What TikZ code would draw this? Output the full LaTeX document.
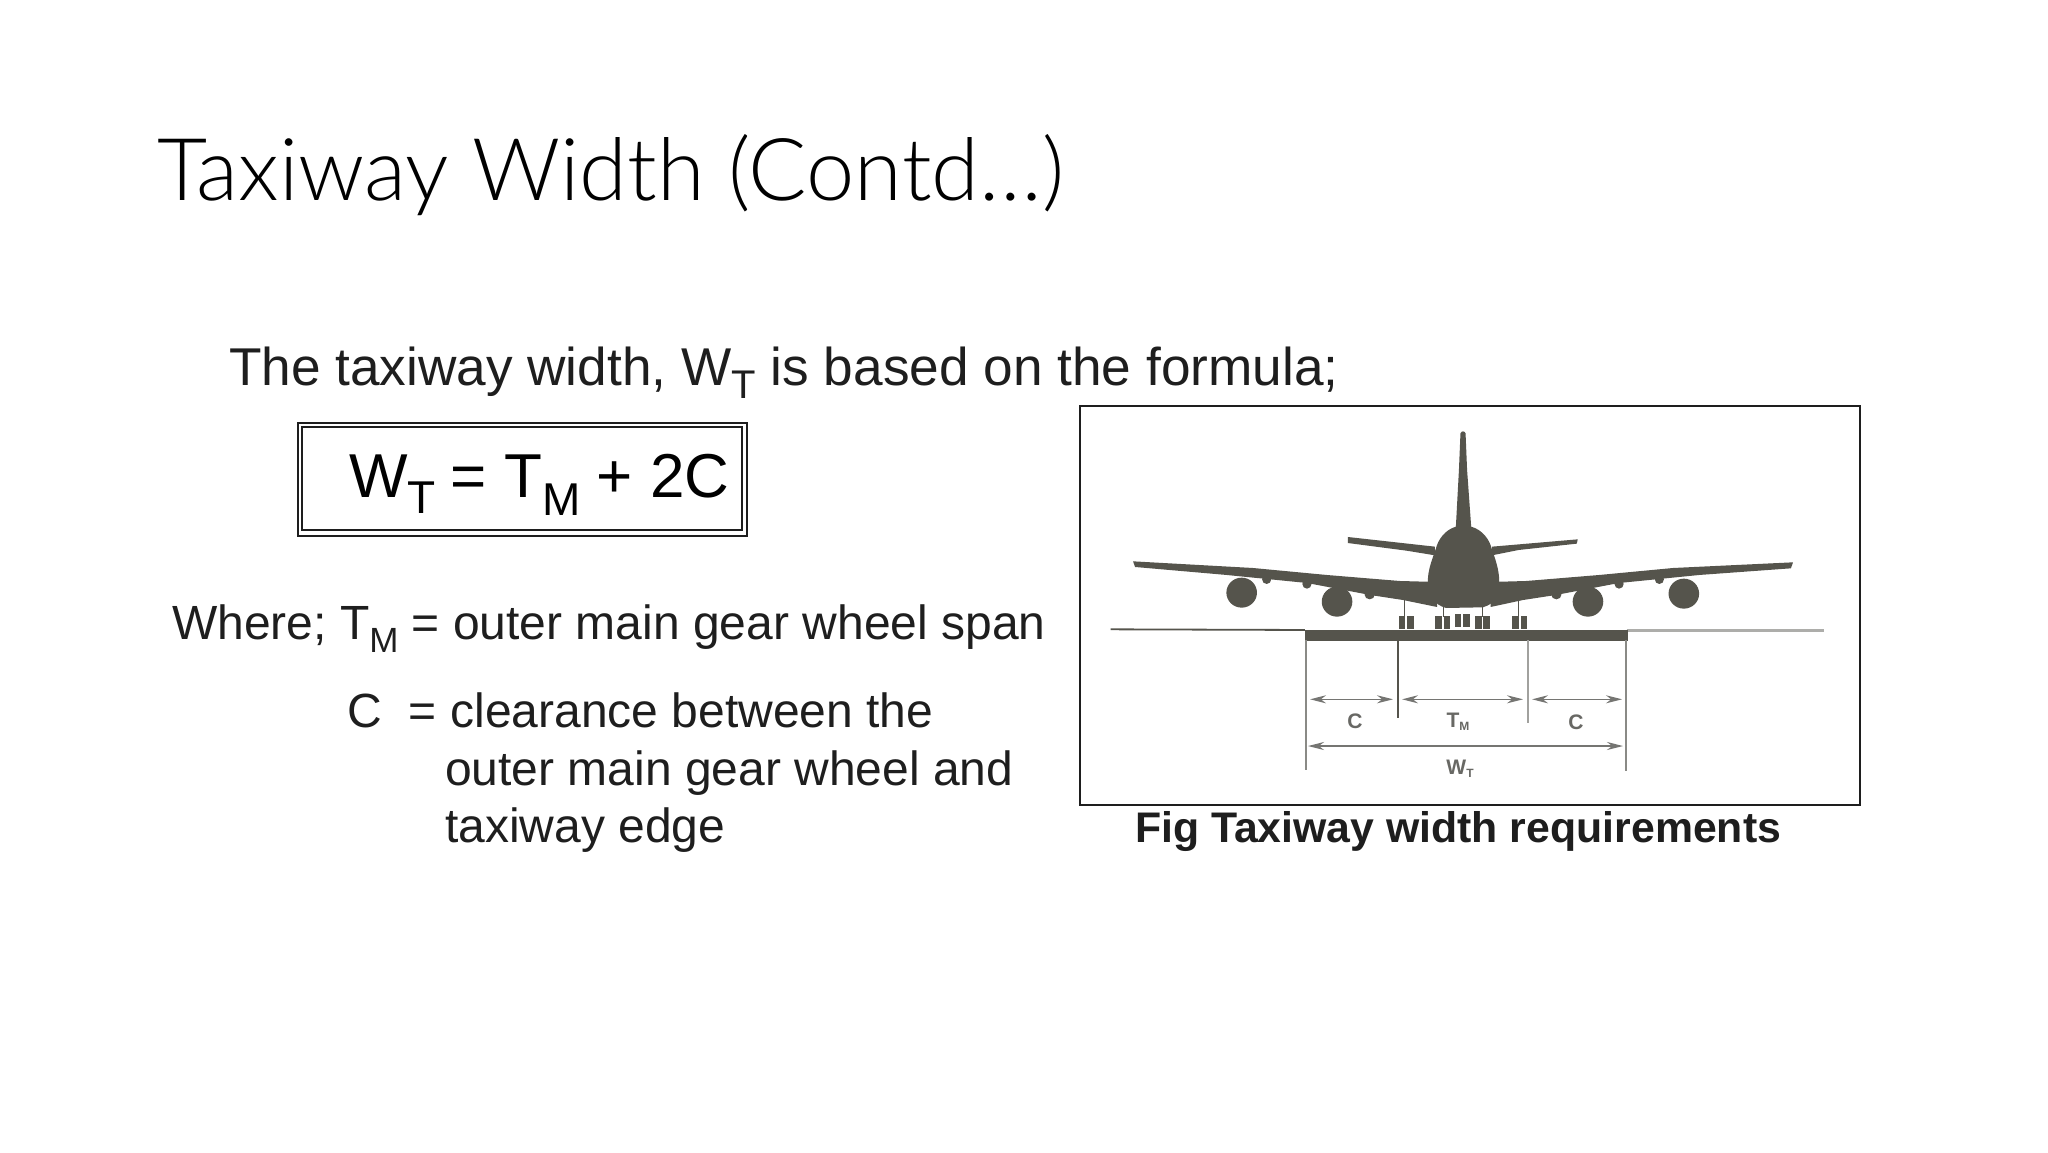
\documentclass[tikz,border=0pt]{standalone}
\usepackage{fontspec}
\setmainfont{Liberation Sans}
\newfontfamily\titlefont{Lato Light}
\usetikzlibrary{arrows.meta}
\newcommand{\lowsub}[3]{\raisebox{#1pt}{\fontsize{#2}{#2}\selectfont #3}}
\definecolor{ink}{HTML}{1E1E1E}
\definecolor{plane}{HTML}{55544C}
\definecolor{ground}{HTML}{8A8A86}
\tikzset{
  txt/.style={anchor=base west,inner sep=0pt,outer sep=0pt,text=ink},
  titletxt/.style={txt,text=black,font=\titlefont\fontsize{86.6}{100}\selectfont},
  headtxt/.style={txt,font=\fontsize{53.2}{60}\selectfont},
  bodytxt/.style={txt,font=\fontsize{48}{56}\selectfont},
  eqtxt/.style={txt,text=black,font=\fontsize{62}{70}\selectfont},
  captxt/.style={txt,font=\bfseries\fontsize{42.8}{50}\selectfont},
  dimtxt/.style={anchor=center,inner sep=0pt,text=ground!75!black,font=\bfseries\fontsize{21}{24}\selectfont},
  planefill/.style={fill=plane,draw=none},
  extline/.style={draw=ground,line width=1.8pt},
  dimline/.style={draw=ground!85!black,line width=1.6pt,{Stealth[length=16pt,width=8pt]}-{Stealth[length=16pt,width=8pt]}},
  figframe/.style={draw=ink,line width=2.4pt,fill=white,inner sep=0pt},
  eqframe/.style={draw=ink,line width=1.6pt,inner sep=0pt}
}
\begin{document}
\begin{tikzpicture}[x=1pt,y=-1pt]
\useasboundingbox[fill=white] (0,0) rectangle (2048,1152);
\node[titletxt] (title) at (157,200) {Taxiway Width (Contd…)};
\node[headtxt] (head) at (229,385.5) {The taxiway width, W\lowsub{-13}{40}{T} is based on the formula;};
\node[eqframe,minimum width=449pt,minimum height=113pt] (eqouter) at (522.5,479.5) {};
\node[eqframe,minimum width=440pt,minimum height=103pt] (eqinner) at (522,478.5) {};
\node[eqtxt] (eq) at (349,497) {W\lowsub{-16}{46}{T}\hspace{-2pt} = T\lowsub{-18}{46}{M}\hspace{-1pt} + 2C};
\node[bodytxt] (where) at (172,639) {Where; T\lowsub{-13}{35}{M} = outer main gear wheel span};
\node[bodytxt] (c1) at (347,727) {C\hspace{14pt} = clearance between the};
\node[bodytxt] (c2) at (445,785) {outer main gear wheel and};
\node[bodytxt] (c3) at (445,842) {taxiway edge};
\node[captxt] (cap) at (1135,842) {Fig Taxiway width requirements};
\node[figframe,minimum width=780pt,minimum height=399pt] (fig) at (1470,605.5) {};
% aircraft, in the coordinates of a crop at (1080,400)
\begin{scope}[shift={(1080pt,-400pt)},x=0.51pt,y=-0.3333pt]
  \coordinate (gl) at (60,688);
  \coordinate (gr) at (1458,692);
  \coordinate (pl) at (441,690);
  \coordinate (pr) at (1072,692);
  \draw[draw=plane,line width=1.8pt] (gl) -- (pl);
  \draw[draw=ground!70!white,line width=3pt] (pr) -- (gr);
  % fin and fuselage
  \fill[planefill] (746,100) .. controls (748,92) and (754,92) .. (756,100)
    -- (759,210) -- (767,380)
    .. controls (790,390) and (803,420) .. (807,445)
    .. controls (815,480) and (822,510) .. (822,545)
    .. controls (820,590) and (815,610) .. (790,622)
    -- (718,624) .. controls (695,615) and (685,590) .. (682,545)
    .. controls (682,510) and (690,480) .. (698,445)
    .. controls (702,420) and (715,390) .. (737,380)
    -- (743,210) -- cycle;
  % tailplanes
  \fill[planefill] (525,411) -- (696,440) -- (696,466) -- (640,452) -- (525,429) -- cycle;
  \fill[planefill] (976,418) -- (808,440) -- (808,466) -- (860,450) -- (974,431) -- cycle;
  % wings
  \fill[planefill] (104,484) -- (339,504) -- (484,525) -- (627,543) -- (700,546) -- (700,621)
    -- (633,600) -- (569,585) -- (445,549) -- (288,525) -- (108,501) -- cycle;
  \fill[planefill] (1398,487) -- (1163,504) -- (1018,525) -- (875,543) -- (805,546) -- (805,621)
    -- (869,600) -- (933,585) -- (1057,549) -- (1214,525) -- (1394,505) -- cycle;
  % flap fairings
  \fill[planefill] (366,538) ellipse [x radius=9,y radius=14];
  \fill[planefill] (445,552) ellipse [x radius=9,y radius=14];
  \fill[planefill] (568,584) ellipse [x radius=10,y radius=14];
  \fill[planefill] (934,584) ellipse [x radius=10,y radius=14];
  \fill[planefill] (1057,552) ellipse [x radius=9,y radius=14];
  \fill[planefill] (1136,538) ellipse [x radius=9,y radius=14];
  % engines
  \fill[planefill] (317,578) ellipse [x radius=30,y radius=45];
  \fill[planefill] (504,605) ellipse [x radius=30,y radius=45];
  \fill[planefill] (996,605) ellipse [x radius=30,y radius=45];
  \fill[planefill] (1184,581) ellipse [x radius=30,y radius=45];
  % landing gear
  \draw[draw=plane,line width=0.9pt] (637,600) -- (637,650);
  \draw[draw=plane,line width=0.9pt] (860,600) -- (860,650);
  \draw[draw=plane,line width=0.9pt] (712,620) -- (712,650);
  \draw[draw=plane,line width=0.9pt] (790,620) -- (790,650);
  \foreach \gx/\gt in {625/648,697/648,735/642,775/648,848/648}{
    \fill[planefill] (\gx,\gt) rectangle ++(13,39);
    \fill[planefill] (\gx+16,\gt) rectangle ++(13,39);
  }
\end{scope}
% pavement and dimensions
\fill[planefill] (1305,630) rectangle (1627.5,640.7);
\coordinate (e1t) at (1305.7,640);
\coordinate (e1b) at (1305.7,770);
\coordinate (e2t) at (1397.7,640);
\coordinate (e2b) at (1397.7,718);
\coordinate (e3t) at (1528,640);
\coordinate (e3b) at (1528,723);
\coordinate (e4t) at (1626,640);
\coordinate (e4b) at (1626,771);
\draw[extline] (e1t) -- (e1b);
\draw[draw=plane,line width=1.6pt] (e2t) -- (e2b);
\draw[extline,draw=ground!80!white] (e3t) -- (e3b);
\draw[extline] (e4t) -- (e4b);
\coordinate (d1a) at (1310,699.3);
\coordinate (d1b) at (1393,699.3);
\coordinate (d2a) at (1402,699.3);
\coordinate (d2b) at (1523,699.3);
\coordinate (d3a) at (1532,699.3);
\coordinate (d3b) at (1622,699.3);
\coordinate (d4a) at (1308,746);
\coordinate (d4b) at (1623,746);
\draw[dimline] (d1a) -- (d1b);
\draw[dimline] (d2a) -- (d2b);
\draw[dimline] (d3a) -- (d3b);
\draw[dimline] (d4a) -- (d4b);
\node[dimtxt] (lc1) at (1355,721) {C};
\node[dimtxt] (ltm) at (1458,722) {T\lowsub{-3}{12}{M}};
\node[dimtxt] (lc2) at (1576,722) {C};
\node[dimtxt] (lwt) at (1460,769) {W\lowsub{-3}{12}{T}};
\end{tikzpicture}
\end{document}
